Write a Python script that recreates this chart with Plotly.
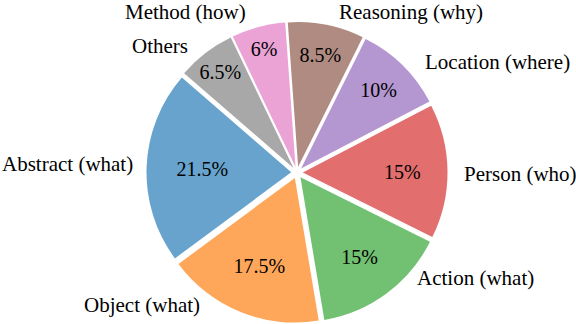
import plotly.graph_objects as go

# 问题类型分布
labels = ["Abstract (what)", "Object (what)", "Action (what)", "Person (who)",
          "Location (where)", "Reasoning (why)", "Method (how)", "Others"]
shares = [21.5, 17.5, 15, 15, 10, 8.5, 6, 6.5]
pct_text = ["21.5%", "17.5%", "15%", "15%", "10%", "8.5%", "6%", "6.5%"]
colors = ["#67a3cc", "#fea75a", "#72c172", "#e36e6e",
          "#b497d0", "#b08b82", "#eba3d6", "#a8a8a8"]

# 类别标签摆放（像素，左上为原点）
label_pos = [(135, 164, "right"), (202, 304.5, "right"), (415, 277.5, "left"),
             (462, 173.5, "left"), (423, 61.5, "left"), (337, 11.5, "left"),
             (248, 12.5, "right"), (190, 45.5, "right")]

W, H = 576, 324
font_name = "Times New Roman"

fig = go.Figure()

# 扇形 + 内部百分比
fig.add_trace(go.Pie(
    labels=labels, values=shares, text=pct_text,
    sort=False, direction="counterclockwise", rotation=-126.5,
    pull=[0.04] * len(shares),
    domain=dict(x=[0.2535, 0.7778], y=[0.003, 0.932]),
    automargin=False,
    marker=dict(colors=colors, line=dict(width=0)),
    textinfo="text", textposition="inside",
    insidetextorientation="horizontal",
    textfont=dict(family=font_name, size=20, color="black"),
    hoverinfo="skip", showlegend=False,
))

# 外部类别标签
for name, (px, py, anchor) in zip(labels, label_pos):
    fig.add_annotation(
        text=name, x=px / W, y=1 - py / H, xref="paper", yref="paper",
        xanchor=anchor, yanchor="middle", showarrow=False,
        font=dict(family=font_name, size=21, color="black"),
    )

fig.update_layout(
    width=W, height=H,
    margin=dict(l=0, r=0, t=0, b=0),
    paper_bgcolor="white",
    font=dict(family=font_name),
    uniformtext=dict(minsize=20, mode="show"),
)

# 去掉页面默认的 body 外边距，隐藏工具栏
fig.write_html("out.html", config={"displayModeBar": False},
               post_script="document.body.style.margin='0';")
